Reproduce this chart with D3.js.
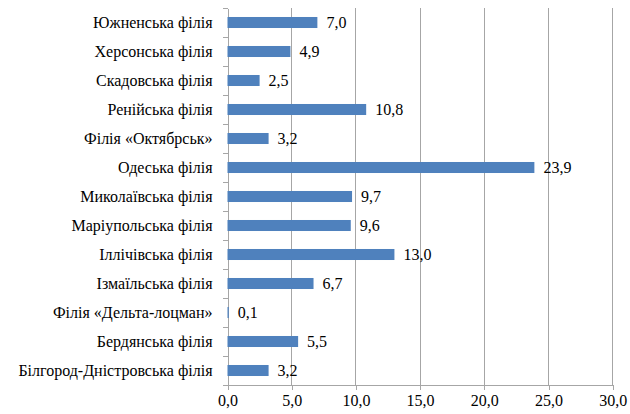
<!DOCTYPE html>
<html><head><meta charset="utf-8">
<script src="https://cdn.jsdelivr.net/npm/d3@7"></script>
</head><body style="margin:0">
<svg id="c" width="630" height="414" style="display:block"></svg>
<script>
const categories = ["Южненська філія","Херсонська філія","Скадовська філія","Ренійська філія","Філія «Октябрськ»","Одеська філія","Миколаївська філія","Маріупольська філія","Іллічівська філія","Ізмаїльська філія","Філія «Дельта-лоцман»","Бердянська філія","Білгород-Дністровська філія"];
const values = [7.0,4.9,2.5,10.8,3.2,23.9,9.7,9.6,13.0,6.7,0.1,5.5,3.2];
const xTicks = [0,5,10,15,20,25,30];

const svg = d3.select("#c");
const pLeft = 227.5, pRight = 612.7, pTop = 8, pBottom = 385;
const x = d3.scaleLinear().domain([0,30]).range([pLeft,pRight]);
const y = d3.scaleBand().domain(categories).range([pTop,pBottom]).paddingInner(0.62).paddingOuter(0.31);
const fmt = v => v.toFixed(1).replace(".",",");
const fs = 16;
const FONT = '"Liberation Serif", Tinos, "Times New Roman", serif';
const gridColor = "#a6a6a6";
const serifText = sel => sel.style("font-family", FONT, "important").style("font-size", fs + "px", "important").attr("fill", "#000");

// gridlines
svg.append("g").selectAll("line").data(xTicks.slice(1)).join("line")
  .attr("x1",d=>x(d)).attr("x2",d=>x(d)).attr("y1",pTop).attr("y2",pBottom)
  .attr("stroke",gridColor).attr("stroke-width",1).attr("shape-rendering","crispEdges");

// x axis
const xAxis = d3.axisBottom(x).tickValues(xTicks).tickFormat(fmt).tickSize(5).tickPadding(5);
const gx = svg.append("g").attr("transform",`translate(0,${pBottom})`).call(xAxis);
gx.attr("font-family",null).attr("font-size",null);
gx.select(".domain").attr("stroke",gridColor).attr("shape-rendering","crispEdges");
gx.selectAll(".tick line").attr("stroke",gridColor).attr("shape-rendering","crispEdges");
serifText(gx.selectAll("text"));

// y axis
const yAxis = d3.axisLeft(y).tickSize(0).tickPadding(15);
const gy = svg.append("g").attr("transform",`translate(${pLeft},0)`).call(yAxis);
gy.attr("font-family",null).attr("font-size",null);
gy.select(".domain").attr("stroke",gridColor).attr("shape-rendering","crispEdges");
serifText(gy.selectAll("text"));
// category boundary ticks
const bounds = d3.range(categories.length+1).map(i => pTop + i*(pBottom-pTop)/categories.length);
svg.append("g").selectAll("line").data(bounds).join("line")
  .attr("x1",pLeft-5).attr("x2",pLeft).attr("y1",d=>d).attr("y2",d=>d)
  .attr("stroke",gridColor).attr("shape-rendering","crispEdges");

// bars
svg.append("g").selectAll("rect").data(categories).join("rect")
  .attr("x",x(0)).attr("y",(d)=>y(d))
  .attr("width",(d,i)=>x(values[i])-x(0)).attr("height",y.bandwidth())
  .attr("fill","#4F81BD");

// value labels
serifText(svg.append("g").selectAll("text").data(categories).join("text")
  .attr("x",(d,i)=>x(values[i])+9).attr("y",d=>y(d)+y.bandwidth()/2).attr("dy","0.35em")
  .text((d,i)=>fmt(values[i])));
</script>
</body></html>
